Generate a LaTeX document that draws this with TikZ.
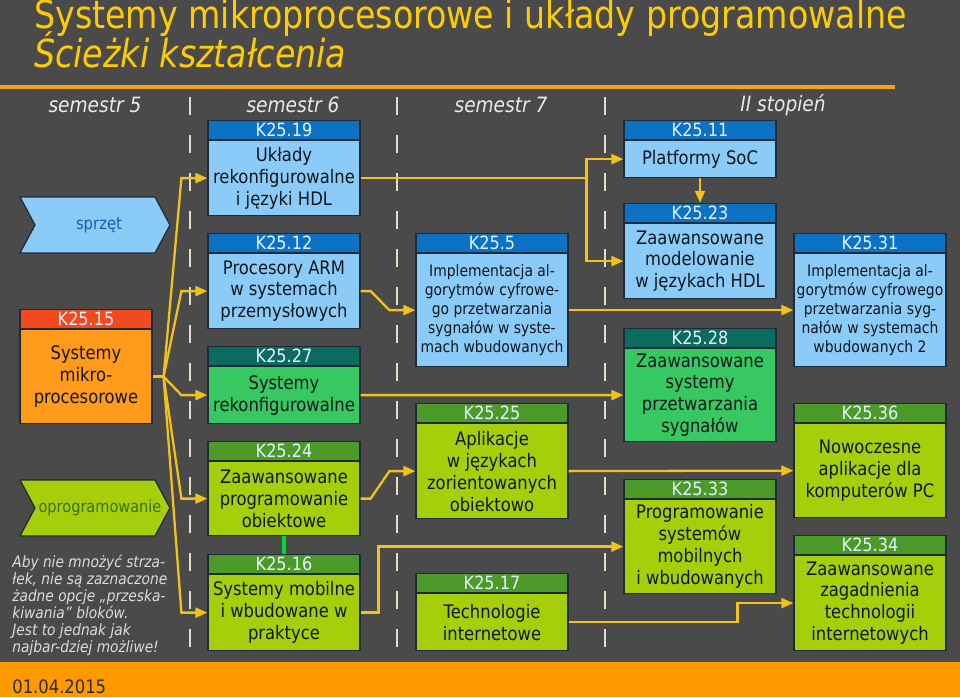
\documentclass[tikz,border=0pt]{standalone}
\usepackage{fontspec}
\setmainfont[FakeStretch=0.88]{DejaVu Sans}
\newfontfamily\titlefont[FakeStretch=0.86]{DejaVu Sans}
\usetikzlibrary{arrows.meta,positioning}
\definecolor{bg}{HTML}{4A4A4A}
\definecolor{gold}{HTML}{FFCC00}
\definecolor{rule}{HTML}{F7A01C}
\definecolor{band}{HTML}{FF9900}
\definecolor{divcol}{HTML}{E4DFC8}
\definecolor{linkcol}{HTML}{F2C21A}
\definecolor{edge}{HTML}{1E2A36}
\definecolor{ink}{HTML}{10161E}
\definecolor{headink}{HTML}{E6F2FF}
\definecolor{blueh}{HTML}{0E72C4}
\definecolor{blueb}{HTML}{8ACBF7}
\definecolor{tealh}{HTML}{0B6B5E}
\definecolor{greenb}{HTML}{37C862}
\definecolor{limeh}{HTML}{4C9A2A}
\definecolor{limeb}{HTML}{A6CE0A}
\definecolor{redh}{HTML}{F04A1E}
\definecolor{orangeb}{HTML}{FF9A1A}
\definecolor{notegray}{HTML}{DCDCDC}
\definecolor{hwtext}{HTML}{1A5DAA}
\definecolor{swtext}{HTML}{3B6E0E}
\begin{document}
\begin{tikzpicture}[x=0.02cm,y=-0.02cm,
	box/.style={draw=edge,line width=0.7pt,minimum width=3.04cm,align=center,inner sep=1pt,text=ink,font=\fontsize{10.6}{12.5}\selectfont},
	smallbox/.style={box,font=\fontsize{9}{10.8}\selectfont},
	head/.style={box,minimum height=0.38cm,text=headink,font=\fontsize{10.4}{10.4}\selectfont},
	bluehead/.style={head,fill=blueh},bluebody/.style={fill=blueb,anchor=north},
	tealhead/.style={head,fill=tealh},greenbody/.style={fill=greenb,anchor=north},
	limehead/.style={head,fill=limeh},limebody/.style={fill=limeb,anchor=north},
	semester/.style={text=notegray!60!white,font=\fontsize{12}{14}\itshape},
	divider/.style={divcol,line width=1.1pt,dash pattern=on 0.36cm off 0.4cm},
	link/.style={linkcol,line width=1.3pt},
	flow/.style={link,-{Triangle[length=0.24cm,width=0.2cm]}}]
	\useasboundingbox (0,0) rectangle (960,697);
	\fill[bg] (0,0) rectangle (960,697);
	\fill[band] (0,662) rectangle (960,697);
	\fill[rule] (0,85) rectangle (895,89);
	\node[anchor=base west,inner sep=0pt,text=gold,font=\titlefont\fontsize{22}{24}\selectfont] (title) at (34,28) {Systemy mikroprocesorowe i układy programowalne};
	\node[anchor=base west,inner sep=0pt,text=gold,font=\titlefont\fontsize{22}{24}\itshape] (subtitle) at (34,67) {Ścieżki kształcenia};
	\node[semester] (s5) at (95,105) {semestr 5};
	\node[semester] (s6) at (293,105) {semestr 6};
	\node[semester] (s7) at (501,105) {semestr 7};
	\node[semester] (s2) at (783,105) {II stopień};
	\draw[divider] (190,97) -- (190,652);
	\draw[divider] (397,97) -- (397,652);
	\draw[divider] (605,97) -- (605,652);
	\draw[draw=edge,line width=0.7pt,fill=blueb] (20,197) -- (155,197) -- (170,225) -- (155,253) -- (20,253) -- (35,225) -- cycle;
	\node[text=hwtext,font=\fontsize{9.6}{12}\selectfont] (hw) at (99,225) {sprzęt};
	\draw[draw=edge,line width=0.7pt,fill=limeb] (20,480) -- (155,480) -- (170,508) -- (155,536) -- (20,536) -- (35,508) -- cycle;
	\node[text=swtext,font=\fontsize{9.4}{12}\selectfont] (sw) at (100,508) {oprogramowanie};
	\node[anchor=north west,align=left,inner sep=0pt,text=notegray,font=\fontsize{8.9}{9.6}\itshape] (note) at (12,555) {Aby nie mnożyć strza-\\łek, nie są zaznaczone\\żadne opcje „przeska-\\kiwania” bloków.\\Jest to jednak jak\\najbar-dziej możliwe!};
	\node[anchor=base west,inner sep=0pt,text=ink!90,font=\fontsize{10.6}{12}\selectfont] (date) at (12,693) {01.04.2015};
	% semestr 5
	\node[box,fill=orangeb,anchor=north,minimum width=2.64cm,minimum height=1.88cm] (k15) at (86,329) {Systemy\\mikro-\\procesorowe};
	\node[head,fill=redh,minimum width=2.64cm,above=0pt of k15] (k15h) {K25.15};
	% semestr 6
	\node[box,bluebody,minimum height=1.5cm] (k19) at (284,140) {Układy\\rekonfigurowalne\\i języki HDL};
	\node[bluehead,above=0pt of k19] (k19h) {K25.19};
	\node[box,bluebody,minimum height=1.5cm] (k12) at (284,253) {Procesory ARM\\w systemach\\przemysłowych};
	\node[bluehead,above=0pt of k12] (k12h) {K25.12};
	\node[box,greenbody,minimum height=1.14cm] (k27) at (284,366) {Systemy\\rekonfigurowalne};
	\node[tealhead,above=0pt of k27] (k27h) {K25.27};
	\node[box,limebody,minimum height=1.48cm] (k24) at (284,461) {Zaawansowane\\programowanie\\obiektowe};
	\node[limehead,above=0pt of k24] (k24h) {K25.24};
	\node[box,limebody,minimum height=1.52cm] (k16) at (284,574) {Systemy mobilne\\i wbudowane w\\praktyce};
	\node[limehead,above=0pt of k16] (k16h) {K25.16};
	% semestr 7
	\node[smallbox,bluebody,minimum height=2.26cm] (k5) at (492,253) {Implementacja al-\\gorytmów cyfrowe-\\go przetwarzania\\sygnałów w syste-\\mach wbudowanych};
	\node[bluehead,above=0pt of k5] (k5h) {K25.5};
	\node[box,limebody,minimum height=1.9cm] (k25) at (492,423) {Aplikacje\\w językach\\zorientowanych\\obiektowo};
	\node[limehead,above=0pt of k25] (k25h) {K25.25};
	\node[box,limebody,minimum height=1.14cm] (k17) at (492,593) {Technologie\\internetowe};
	\node[limehead,above=0pt of k17] (k17h) {K25.17};
	% II stopien
	\node[box,bluebody,minimum height=0.74cm] (k11) at (700,140) {Platformy SoC};
	\node[bluehead,above=0pt of k11] (k11h) {K25.11};
	\node[box,bluebody,minimum height=1.5cm] (k23) at (700,223) {Zaawansowane\\modelowanie\\w językach HDL};
	\node[bluehead,above=0pt of k23] (k23h) {K25.23};
	\node[box,greenbody,minimum height=1.86cm] (k28) at (700,348) {Zaawansowane\\systemy\\przetwarzania\\sygnałów};
	\node[tealhead,above=0pt of k28] (k28h) {K25.28};
	\node[box,limebody,minimum height=1.88cm] (k33) at (700,499) {Programowanie\\systemów\\mobilnych\\i wbudowanych};
	\node[limehead,above=0pt of k33] (k33h) {K25.33};
	\node[smallbox,bluebody,minimum height=2.26cm] (k31) at (870,253) {Implementacja al-\\gorytmów cyfrowego\\przetwarzania syg-\\nałów w systemach\\wbudowanych 2};
	\node[bluehead,above=0pt of k31] (k31h) {K25.31};
	\node[box,limebody,minimum height=1.88cm] (k36) at (870,423) {Nowoczesne\\aplikacje dla\\komputerów PC};
	\node[limehead,above=0pt of k36] (k36h) {K25.36};
	\node[box,limebody,minimum height=1.9cm] (k34) at (870,555) {Zaawansowane\\zagadnienia\\technologii\\internetowych};
	\node[limehead,above=0pt of k34] (k34h) {K25.34};
	% connectors
	\coordinate (fan) at ([xshift=0.22cm]k15.east);
	\draw[link] (k15.east) -- (fan);
	\draw[flow] (fan) -- ([xshift=-0.52cm]k19.west) -- (k19.west);
	\draw[flow] (fan) -- ([xshift=-0.52cm]k12.west) -- (k12.west);
	\draw[flow] (fan) -- ([xshift=-0.52cm]k27.west) -- (k27.west);
	\draw[flow] (fan) -- ([xshift=-0.52cm]k24.west) -- (k24.west);
	\draw[flow] (fan) -- ([xshift=-0.52cm]k16.west) -- (k16.west);
	\draw[green!70!teal,line width=1.8pt] (k24.south) -- (k16h.north);
	\coordinate (split) at ([xshift=-0.74cm]k11.west |- k19.east);
	\draw[link] (k19.east) -- (split);
	\draw[flow] (split) |- (k11.west);
	\draw[flow] (split) |- (k23.west);
	\draw[flow] (k11.south) -- (k23h.north);
	\draw[flow] (k12.east) -- ++(10,0) -- ([xshift=-0.52cm]k5.west) -- (k5.west);
	\draw[flow] (k5.east) -- (k31.west);
	\draw[flow] (k27.east) -- (k28.west);
	\draw[flow] (k24.east) -- ++(10,0) -- ([xshift=-0.52cm]k25.west) -- (k25.west);
	\draw[flow] (k25.east) -- (k36.west);
	\draw[flow] (k16.east) -- ++(18,0) |- (k33.west);
	\draw[flow] (k17.east) -- ([xshift=-1.12cm]k34.west |- k17.east) |- (k34.west);
\end{tikzpicture}
\end{document}
